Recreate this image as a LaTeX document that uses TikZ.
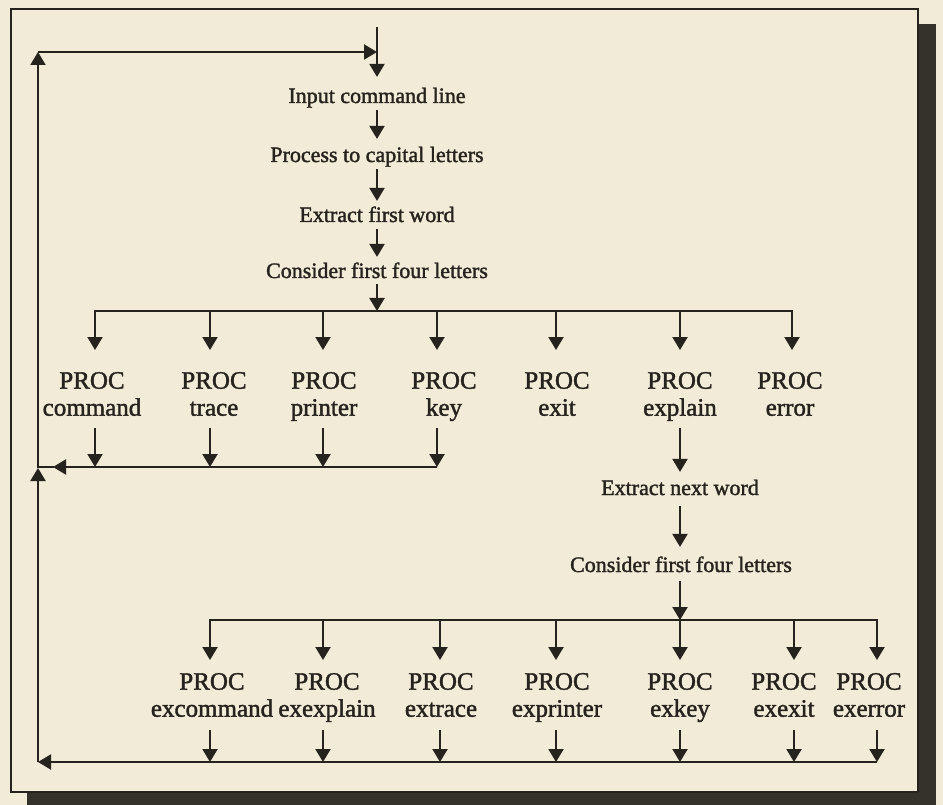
\documentclass[tikz,border=0pt]{standalone}
\usepackage{fontspec}
\setmainfont{Liberation Serif}[FakeBold=1.6]
\usetikzlibrary{arrows.meta,calc}
\definecolor{paper}{HTML}{F2EBD7}
\definecolor{ink}{HTML}{26231F}
\definecolor{shadowc}{HTML}{35322B}
\begin{document}
\begin{tikzpicture}[x=1pt,y=-1pt,line width=2.2pt,color=ink,
  arr/.style={-{Triangle[width=15pt,length=13pt]}},
  plain/.style={line cap=rect},
  lbl/.style={font=\fontsize{22}{26}\selectfont,inner sep=0pt,text height=16pt,text depth=5pt},
  proc/.style={font=\fontsize{25}{27}\selectfont,align=center,inner sep=0pt,anchor=north}]
% page, shadow and frame
\fill[paper] (0,0) rectangle (943,805);
\useasboundingbox (0,0) rectangle (943,805);
\fill[shadowc] (27,24) rectangle (936,805);
\filldraw[fill=paper,draw=ink,line width=1.8pt] (11,9) rectangle (918,792);
% main column
\coordinate (top) at (377,27);
\node[lbl] (in)   at (377,97.5)  {Input command line};
\node[lbl] (cap)  at (377,156.5) {Process to capital letters};
\node[lbl] (ext)  at (377,216.5) {Extract first word};
\node[lbl] (cons) at (377,272.5) {Consider first four letters};
\coordinate (b1) at (377,311);
\draw[arr,shorten >=9pt] (top) -- (in.north);
\draw[arr,shorten <=1pt,shorten >=6pt] (in.south) -- (cap.north);
\draw[arr,shorten <=1pt,shorten >=4pt] (cap.south) -- (ext.north);
\draw[arr,shorten <=1pt,shorten >=4pt] (ext.south) -- (cons.north);
\draw[arr] (cons.south) -- (b1);
% first row of procedures
\node[proc] (p1) at (92,371)  {PROC\\command};
\node[proc] (p2) at (214,371) {PROC\\trace};
\node[proc] (p3) at (324,371) {PROC\\printer};
\node[proc] (p4) at (444,371) {PROC\\key};
\node[proc] (p5) at (557,371) {PROC\\exit};
\node[proc] (p6) at (680,371) {PROC\\explain};
\node[proc] (p7) at (790,371) {PROC\\error};
\draw[plain] ($(p1.north)+(3,-60)$) -- ($(p7.north)+(2,-60)$);
\foreach \n/\dx in {p1/3,p2/-4,p3/-1,p4/-7,p5/-1,p6/0,p7/2}{
  \draw[arr] ($(\n.north)+(\dx,-60)$) -- ($(\n.north)+(\dx,-21)$);
}
\foreach \n/\dx in {p1/3,p2/-4,p3/-1,p4/-7}{
  \draw[arr] ($(\n.north)+(\dx,57)$) -- ($(\n.north)+(\dx,96)$);
}
\coordinate (r1h) at (53,467);
\coordinate (r1) at (38,467);
\draw[arr] ($(p4.north)+(-7,96)$) -- (r1h);
\draw[plain] (r1h) -- (r1);
% second stage
\node[lbl] (nxt)   at (680,489.5) {Extract next word};
\node[lbl] (cons2) at (681,566.5) {Consider first four letters};
\coordinate (b2) at (680,620);
\draw[arr,shorten >=6pt] ($(p6.north)+(0,57)$) -- (nxt.north);
\draw[arr,shorten <=5pt,shorten >=8pt] (nxt.south) -- (nxt.south |- cons2.north);
\draw[arr,shorten <=3pt] (cons2.south -| b2) -- (b2);
% second row of procedures
\node[proc] (q1) at (212,672) {PROC\\excommand};
\node[proc] (q2) at (327,672) {PROC\\exexplain};
\node[proc] (q3) at (441,672) {PROC\\extrace};
\node[proc] (q4) at (557,672) {PROC\\exprinter};
\node[proc] (q5) at (680,672) {PROC\\exkey};
\node[proc] (q6) at (784,672) {PROC\\exexit};
\node[proc] (q7) at (869,672) {PROC\\exerror};
\draw[plain] ($(q1.north)+(-2,-52)$) -- ($(q7.north)+(8,-52)$);
\foreach \n/\dx in {q1/-2,q2/-4,q3/-1,q4/-1,q5/0,q6/10,q7/8}{
  \draw[arr] ($(\n.north)+(\dx,-52)$) -- ($(\n.north)+(\dx,-12)$);
  \draw[arr] ($(\n.north)+(\dx,58)$) -- ($(\n.north)+(\dx,90)$);
}
% return loop
\coordinate (lb) at (38,762);
\coordinate (lm) at (38,468);
\coordinate (lt) at (38,52);
\coordinate (tr) at (377,52);
\draw[arr] ($(q7.north)+(8,90)$) -- (lb);
\draw[arr] (lb) -- (lm);
\draw[arr] (lm) -- (lt);
\draw[arr] (lt) -- (tr);
\end{tikzpicture}
\end{document}
